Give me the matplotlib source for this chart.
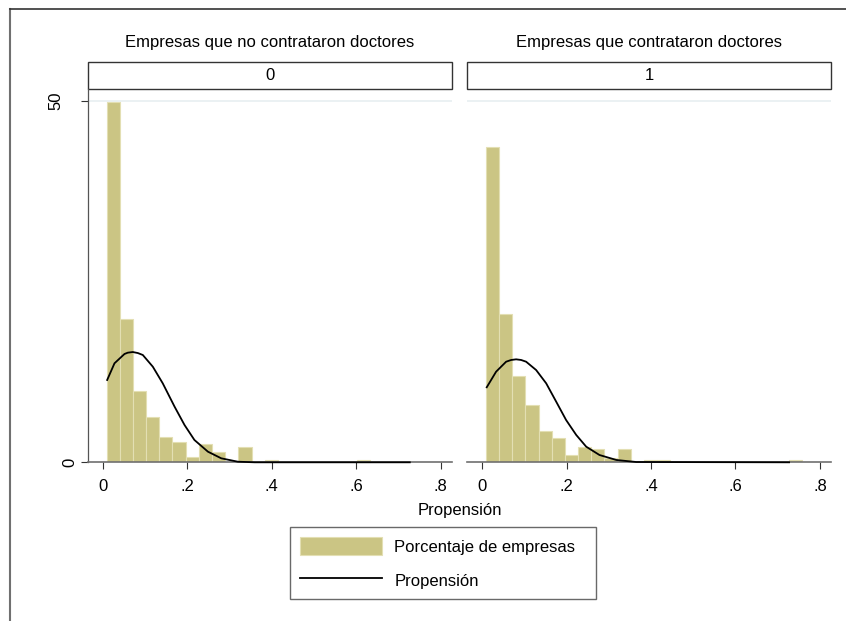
import numpy as np
import matplotlib
matplotlib.use("Agg")
import matplotlib.pyplot as plt
from matplotlib.patches import Patch, Rectangle
from matplotlib.lines import Line2D
from matplotlib.transforms import ScaledTranslation

plt.rcParams['font.family'] = ['Liberation Sans', 'DejaVu Sans']

# histogram bins (percent of firms), common bins for both panels
bin_start = 0.009
bin_width = 0.0312
pct_no = [49.9, 19.8, 9.9, 6.3, 3.55, 2.85, 0.71, 2.49, 1.42, 0, 2.13, 0,
          0.36, 0, 0, 0, 0, 0, 0, 0.36, 0, 0, 0, 0]
pct_yes = [43.6, 20.5, 11.9, 7.9, 4.4, 3.3, 1.05, 2.1, 1.8, 0.64, 1.8, 0,
           0.36, 0.36, 0, 0, 0, 0, 0, 0, 0, 0, 0, 0.36]

# normal overlay
curve_no_x = [0.0104, 0.0277, 0.0514, 0.0592, 0.0711, 0.083, 0.0948, 0.1185, 0.142, 0.170,
              0.1936, 0.217, 0.249, 0.2806, 0.32, 0.36, 0.727]
curve_no_y = [11.39, 13.7, 14.99, 15.17, 15.26, 15.12, 14.85, 13.23, 10.93, 7.7,
              5.16, 3.09, 1.47, 0.55, 0.08, 0.0, 0.0]
curve_yes_x = [0.011, 0.0332, 0.0569, 0.0688, 0.0806, 0.0925, 0.1043, 0.128, 0.1518, 0.1755,
               0.199, 0.223, 0.2466, 0.278, 0.318, 0.365, 0.727]
curve_yes_y = [10.38, 12.54, 13.92, 14.16, 14.25, 14.16, 13.92, 12.77, 10.93, 8.39,
               5.85, 3.78, 2.16, 1.01, 0.32, 0.04, 0.0]

panel_titles = ['Empresas que no contrataron doctores', 'Empresas que contrataron doctores']
panel_keys = ['0', '1']
xticks = [0, 0.2, 0.4, 0.6, 0.8]
xticklabels = ['0', '.2', '.4', '.6', '.8']

bar_c = '#cbc584'
bar_edge = '#e3dfb3'
W, H = 846, 621

fig = plt.figure(figsize=(W / 100, H / 100), dpi=100)
fig.patch.set_facecolor('white')

# outer frame (partly cropped)
fig.add_artist(Line2D([10 / W, 10 / W], [0, 1 - 9 / H], transform=fig.transFigure,
                      color='#707070', lw=1.5))
fig.add_artist(Line2D([10 / W, 1], [1 - 9 / H, 1 - 9 / H], transform=fig.transFigure,
                      color='#333333', lw=1.2))

ax_b = 1 - 462.3 / H
ax_h = (462.3 - 89) / H
ax_w = 364 / W
lefts = [88 / W, 467.3 / W]
data = [(pct_no, curve_no_x, curve_no_y), (pct_yes, curve_yes_x, curve_yes_y)]
hdr_h = (89.3 - 62.7) / 373.3

for i in range(2):
    ax = fig.add_axes([lefts[i], ax_b, ax_w, ax_h])
    pct, cx, cy = data[i]
    edges = bin_start + bin_width * np.arange(len(pct))
    keep = np.array(pct) > 0
    ax.bar(edges[keep], np.array(pct)[keep], width=bin_width, align='edge',
           color=bar_c, edgecolor=bar_edge, lw=0.8, zorder=2)
    ax.plot(cx, cy, color='black', lw=1.3, zorder=4, clip_on=False,
            solid_joinstyle='round')
    ax.axhline(50, color='#e8eff1', lw=1.2, zorder=1)
    ax.set_xlim(-0.035, 0.827)
    ax.set_ylim(0, 51.66)
    ax.set_xticks(xticks)
    ax.set_xticklabels(xticklabels, fontsize=12)
    ax.tick_params(axis='x', length=5, width=0.8, color='#333333', pad=7)
    for s in ['top', 'right']:
        ax.spines[s].set_visible(False)
    ax.spines['bottom'].set_color('#707070')
    ax.spines['bottom'].set_linewidth(1.2)
    if i == 0:
        ax.spines['left'].set_color('#555555')
        ax.spines['left'].set_linewidth(0.9)
        ax.set_yticks([0, 50])
        ax.set_yticklabels(['0', '50'], fontsize=12, rotation=90, va='center')
        ax.tick_params(axis='y', length=5, width=0.8, color='#333333', pad=2.5)
        lab50 = ax.get_yticklabels()[1]
        lab50.set_transform(lab50.get_transform() + ScaledTranslation(-0.14, 0, fig.dpi_scale_trans))
    else:
        ax.spines['left'].set_visible(False)
        ax.set_yticks([])
    # strip header box
    ax.add_patch(Rectangle((0, 1), 1, hdr_h, transform=ax.transAxes, clip_on=False,
                           facecolor='white', edgecolor='#333333', lw=1.0))
    ax.text(0.5, 1 + hdr_h / 2, panel_keys[i], transform=ax.transAxes,
            ha='center', va='center', fontsize=12)
    fig.text(lefts[i] + ax_w / 2, 1 - 42 / H, panel_titles[i],
             ha='center', va='center', fontsize=12)

fig.text(459.5 / W, 1 - 511 / H, 'Propensión', ha='center', va='center', fontsize=12)

handles = [Patch(facecolor=bar_c, edgecolor=bar_edge, lw=0.8),
           Line2D([0], [0], color='black', lw=1.3)]
leg = fig.legend(handles, ['Porcentaje de empresas', 'Propensión'],
                 loc='upper left', bbox_to_anchor=(290 / W, 1 - 598 / H, 306 / W, 71 / H),
                 mode='expand', fontsize=12, frameon=True, fancybox=False,
                 handlelength=4.9, handleheight=1.3, handletextpad=0.75,
                 labelspacing=0.95, borderpad=0.6, borderaxespad=0)
leg.get_frame().set_edgecolor('#444444')
leg.get_frame().set_linewidth(1.0)

plt.savefig('out.png', dpi=100)
